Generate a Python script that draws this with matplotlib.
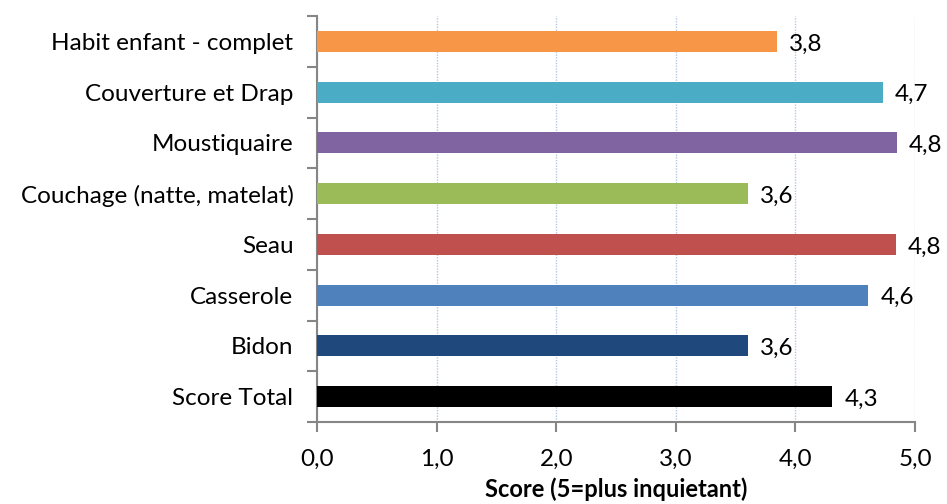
import numpy as np
import matplotlib.pyplot as plt

plt.rcParams['font.family'] = ['Lato', 'DejaVu Sans']

categories = ['Habit enfant - complet', 'Couverture et Drap', 'Moustiquaire',
              'Couchage (natte, matelat)', 'Seau', 'Casserole', 'Bidon', 'Score Total']
values = [3.85, 4.73, 4.85, 3.6, 4.84, 4.61, 3.6, 4.31]
labels = ['3,8', '4,7', '4,8', '3,6', '4,8', '4,6', '3,6', '4,3']
colors = ['#F79646', '#4BACC6', '#8064A2', '#9BBB59', '#C0504D', '#4F81BD', '#1F497D', '#000000']
xticks = [0, 1, 2, 3, 4, 5]
xticklabels = ['0,0', '1,0', '2,0', '3,0', '4,0', '5,0']

fig = plt.figure(figsize=(9.47, 5.04), dpi=100)
ax = fig.add_axes([317/947, 1-422/504, (915-317)/947, (422-16)/504])

y = np.arange(len(categories))[::-1]
ax.barh(y, values, height=0.41, color=colors, zorder=3)
for yi, v, lab in zip(y, values, labels):
    ax.text(v + 0.1, yi - 0.05, lab, va='center', ha='left', fontsize=17.5)

ax.set_xlim(0, 5)
ax.set_ylim(-0.5, len(categories) - 0.5)
ax.set_xticks(xticks)
ax.set_xticklabels(xticklabels, fontsize=17.5)
ax.set_yticks(y)
ax.set_yticklabels(categories, fontsize=17.5)
ax.set_yticks(np.arange(-0.5, len(categories)), minor=True)
ax.tick_params(axis='y', which='major', length=0, pad=17)
ax.tick_params(axis='y', which='minor', length=7, width=1.5, color='#868686')
ax.tick_params(axis='x', length=7, width=1.5, color='#868686', pad=12)

ax.grid(axis='x', color='#B4C8E2', linestyle=(0, (1, 1)), linewidth=1, zorder=0)
for s in ['top', 'right']:
    ax.spines[s].set_visible(False)
for s in ['left', 'bottom']:
    ax.spines[s].set_color('#868686')
    ax.spines[s].set_linewidth(1.5)

ax.set_xlabel('Score (5=plus inquietant)', fontsize=17, fontweight='bold', labelpad=6)

fig.savefig('out.png', dpi=100)
